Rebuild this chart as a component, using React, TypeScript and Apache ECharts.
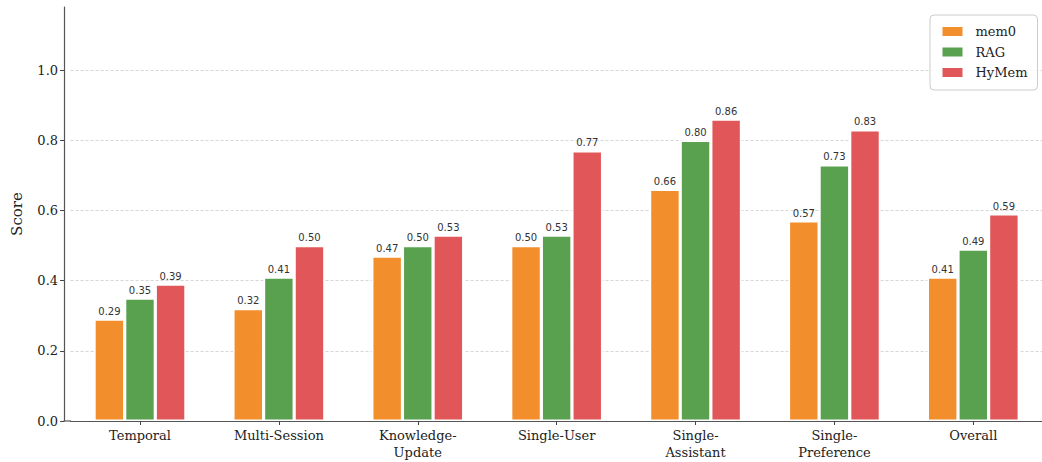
import React, { useEffect, useRef } from "react";
import * as echarts from "echarts";

const categories = [
  "Temporal",
  "Multi-Session",
  "Knowledge-\nUpdate",
  "Single-User",
  "Single-\nAssistant",
  "Single-\nPreference",
  "Overall",
];
const seriesNames = ["mem0", "RAG", "HyMem"];
const mem0Values = [0.29, 0.32, 0.47, 0.5, 0.66, 0.57, 0.41];
const ragValues = [0.35, 0.41, 0.5, 0.53, 0.8, 0.73, 0.49];
const hymemValues = [0.39, 0.5, 0.53, 0.77, 0.86, 0.83, 0.59];
const yTicks = [0, 0.2, 0.4, 0.6, 0.8, 1.0];
const colors = ["#F28E2B", "#59A14F", "#E15759"];

const serif = "'DejaVu Serif', serif";
const sans = "'DejaVu Sans', sans-serif";

export default function App() {
  const ref = useRef<HTMLDivElement>(null);
  useEffect(() => {
    if (!ref.current) return;
    const chart = echarts.init(ref.current, undefined, { renderer: "svg" });
    const allValues = [mem0Values, ragValues, hymemValues];
    const series: any[] = allValues.map((vals, i) => ({
      name: seriesNames[i],
      type: "bar",
      data: vals,
      barWidth: 30.6,
      barGap: "0%",
      itemStyle: { color: colors[i], borderColor: "#ffffff", borderWidth: 1.6 },
      label: {
        show: true,
        position: "top",
        distance: 3,
        fontFamily: sans,
        fontSize: 10,
        color: "#333",
        formatter: (p: any) => Number(p.value).toFixed(2),
      },
      z: 3,
    }));
    series[0].markLine = {
      silent: true,
      symbol: "none",
      label: { show: false },
      lineStyle: { color: "#cccccc", type: [3, 2], width: 0.8 },
      data: yTicks.filter((t) => t > 0).map((t) => ({ yAxis: t })),
      z: 1,
    };
    chart.setOption({
      animation: false,
      backgroundColor: "#ffffff",
      grid: {
        left: 70.55,
        right: -0.75,
        top: 7,
        bottom: 41,
        containLabel: false,
        outerBoundsMode: "none",
      },
      legend: {
        orient: "vertical",
        left: 930,
        top: 15,
        padding: [10, 10, 11, 10.5],
        itemGap: 7.5,
        itemWidth: 22,
        itemHeight: 11,
        icon: "rect",
        borderColor: "#cccccc",
        borderWidth: 1,
        borderRadius: 4,
        backgroundColor: "rgba(255,255,255,0.8)",
        textStyle: {
          fontFamily: serif,
          fontSize: 13,
          color: "#222",
          lineHeight: 13,
          padding: [0, 0, 0, 7],
        },
        data: seriesNames,
      },
      xAxis: {
        type: "category",
        data: categories,
        axisLine: { show: true, lineStyle: { color: "#555", width: 1.2 } },
        axisTick: { show: true, alignWithLabel: true, length: 4, lineStyle: { color: "#444", width: 1 } },
        axisLabel: {
          fontFamily: serif,
          fontSize: 13,
          color: "#222",
          lineHeight: 17,
          margin: 6,
          interval: 0,
        },
        splitLine: { show: false },
      },
      yAxis: {
        type: "value",
        min: 0,
        max: 1.18,
        interval: 0.2,
        offset: 6.5,
        name: "Score",
        nameLocation: "middle",
        nameGap: 40,
        nameTextStyle: { fontFamily: serif, fontSize: 15, color: "#222" },
        axisLine: { show: true, lineStyle: { color: "#555", width: 1.2 } },
        axisTick: {
          show: true,
          length: 4,
          lineStyle: { color: "#444", width: 1 },
          customValues: yTicks,
        },
        axisLabel: {
          fontFamily: serif,
          fontSize: 13,
          color: "#222",
          margin: 6,
          customValues: yTicks,
          formatter: (v: number) => (v > 1.05 ? "" : v.toFixed(1)),
        },
        splitLine: { show: false },
      },
      graphic: [
        {
          type: "line",
          shape: { x1: 63.5, y1: 421, x2: 71, y2: 421 },
          style: { stroke: "#555", lineWidth: 1.2 },
          silent: true,
        },
      ],
      series,
    });
    return () => chart.dispose();
  }, []);
  return (
    <div
      ref={ref}
      style={{ position: "fixed", left: 0, top: 0, width: 1042, height: 462 }}
    />
  );
}
